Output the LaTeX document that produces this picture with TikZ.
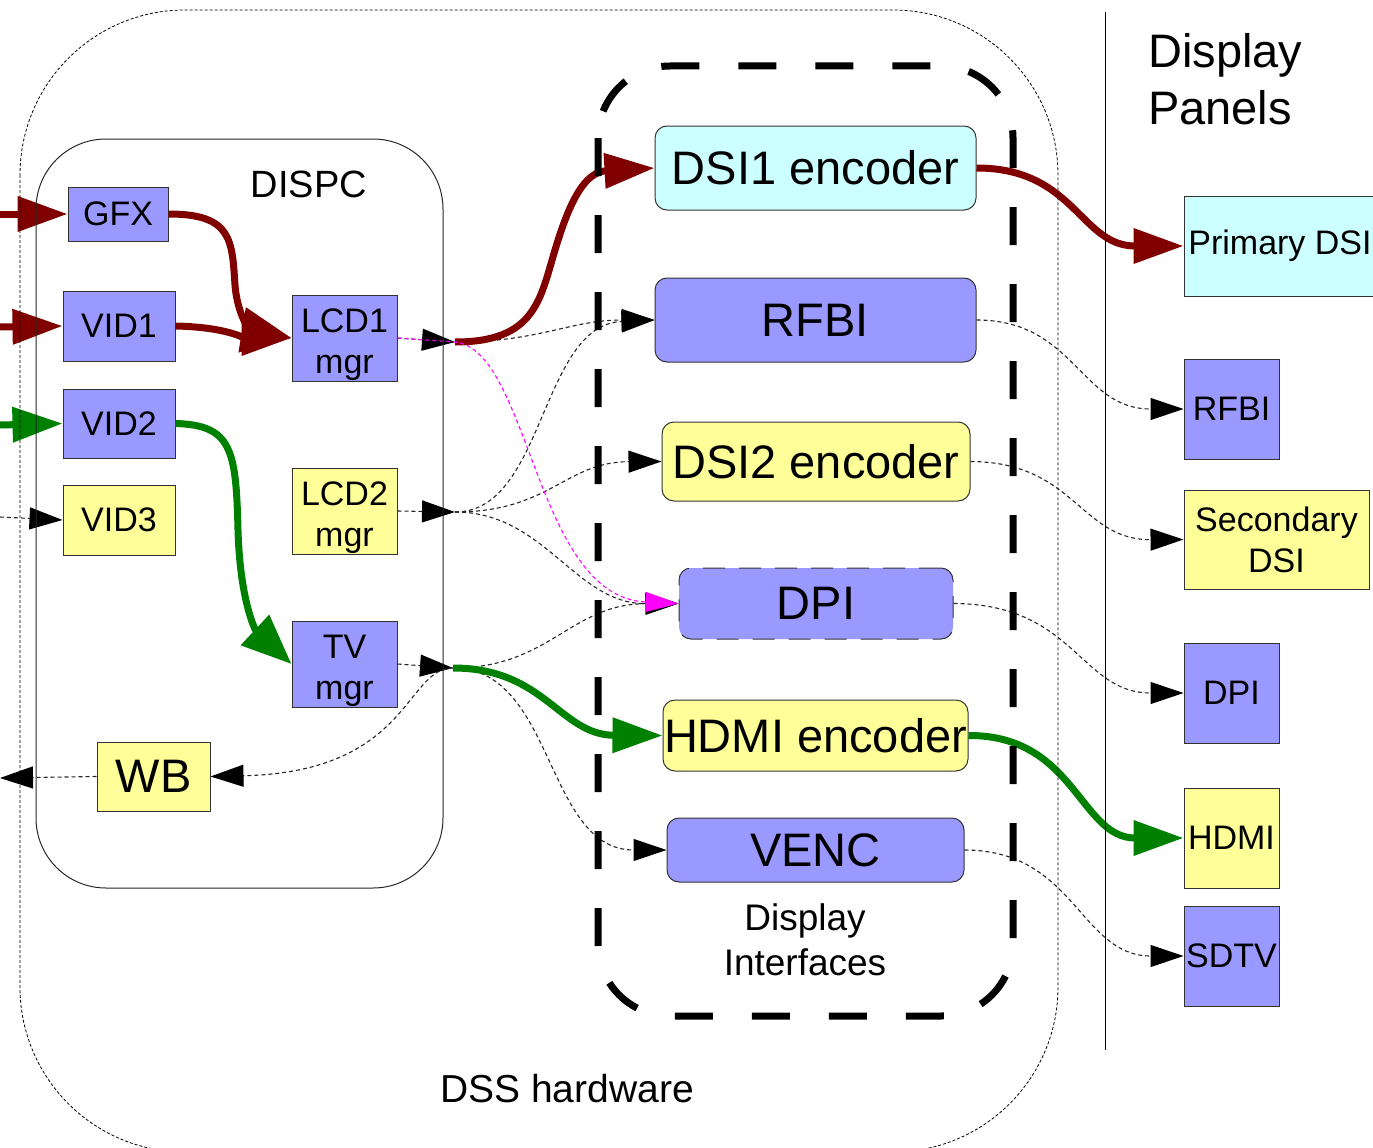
\documentclass[tikz,border=0pt]{standalone}
\usepackage{fontspec}
\setmainfont{Liberation Sans}
\usetikzlibrary{arrows.meta}
\definecolor{pblue}{HTML}{9999FF}
\definecolor{pyel}{HTML}{FFFF99}
\definecolor{pcyan}{HTML}{CCFFFF}
\definecolor{dred}{HTML}{800000}
\definecolor{dgreen}{HTML}{008000}
\definecolor{pmag}{HTML}{FF00FF}
\begin{document}
\begin{tikzpicture}[x=1pt,y=-1pt,
  box/.style={draw=black!80,line width=1pt,inner sep=0pt,align=center},
  sfont/.style={font=\fontsize{34}{41}\selectfont},
  bfont/.style={font=\fontsize{47}{56}\selectfont},
  sq/.style={box,sfont},
  mgrbox/.style={sq,text height=71pt,text depth=0pt},
  enc/.style={box,bfont,rounded corners=12pt},
  bl/.style={fill=pblue}, ye/.style={fill=pyel}, cy/.style={fill=pcyan},
  dl/.style={draw=black!85,line width=1.1pt,dash pattern=on 4pt off 3pt},
  sarr/.style={-{Triangle[length=33pt,width=22pt,color=black]}},
  barr/.style={-{Triangle[length=50pt,width=34pt]}},
  redl/.style={draw=dred,line width=7pt},
  grnl/.style={draw=dgreen,line width=7pt},
  lbl/.style={inner sep=0pt}
]
\useasboundingbox (0,0) rectangle (1373,1148);
\clip (0,0) rectangle (1373,1148);

% DISPC blocks
\node[sq,bl,minimum width=100pt,minimum height=54pt] (gfx) at (118,214) {GFX};
\node[sq,bl,minimum width=112pt,minimum height=70pt] (vid1) at (119,326) {VID1};
\node[sq,bl,minimum width=112pt,minimum height=69pt] (vid2) at (119,423.5) {VID2};
\node[sq,ye,minimum width=112pt,minimum height=70pt] (vid3) at (119,520) {VID3};
\node[mgrbox,bl,minimum width=105pt,minimum height=86pt] (lcd1) at (344.5,338) {LCD1\\mgr};
\node[mgrbox,ye,minimum width=105pt,minimum height=86pt] (lcd2) at (344.5,511) {LCD2\\mgr};
\node[mgrbox,bl,minimum width=105pt,minimum height=86pt] (tv) at (344.5,664) {TV\\mgr};
\node[box,bfont,ye,minimum width=113pt,minimum height=69pt] (wb) at (153.5,776.5) {WB};

% Display interfaces
\node[enc,cy,minimum width=321pt,minimum height=84pt] (dsi1) at (815.5,168) {DSI1 encoder};
\node[enc,bl,minimum width=321pt,minimum height=84pt] (rfbi) at (815.5,320) {RFBI};
\node[enc,ye,minimum width=308pt,minimum height=79pt] (dsi2) at (816,461.5) {DSI2 encoder};
\node[enc,bl,minimum width=274pt,minimum height=71pt,dash pattern=on 22pt off 14pt] (dpi) at (816,603.5) {DPI};
\node[enc,ye,minimum width=305pt,minimum height=71pt] (hdmienc) at (815.5,735.5) {HDMI encoder};
\node[enc,bl,minimum width=297pt,minimum height=64pt] (venc) at (815.5,850) {VENC};

% Panels
\node[sq,cy,minimum width=192pt,minimum height=100pt] (pdsi) at (1280,246) {Primary DSI};
\node[sq,bl,minimum width=95pt,minimum height=100pt] (prfbi) at (1231.5,409) {RFBI};
\node[sq,ye,minimum width=185pt,minimum height=99pt] (sdsi) at (1276.5,539.5) {Secondary\\DSI};
\node[sq,bl,minimum width=95pt,minimum height=100pt] (pdpi) at (1231.5,693) {DPI};
\node[sq,ye,minimum width=95pt,minimum height=100pt] (phdmi) at (1231.5,838) {HDMI};
\node[sq,bl,minimum width=95pt,minimum height=100pt] (psdtv) at (1231.5,956) {SDTV};

% Labels
\node[lbl,font=\fontsize{38}{46}\selectfont] (dispc) at (309,184) {DISPC};
\node[lbl,font=\fontsize{47}{57}\selectfont,align=left,anchor=west] (panels) at (1148,79) {Display\\Panels};
\node[lbl,font=\fontsize{37}{45}\selectfont,align=center] (dilbl) at (805,940) {Display\\Interfaces};
\node[lbl,font=\fontsize{39}{47}\selectfont] (dss) at (567,1089) {DSS hardware};

% coordinates
\coordinate (in0) at (0,214);
\coordinate (in1) at (0,327);
\coordinate (in2) at (0,425);
\coordinate (in3) at (0,517);
\coordinate (wbo) at (0,778);
\coordinate (l1o) at (455,342);
\coordinate (l2o) at (455,512);
\coordinate (tvo) at (453,668);

% incoming
\draw[redl,barr] (in0) -- (gfx.west);
\draw[redl,barr] (in1) -- (vid1.west);
\draw[grnl,barr] (in2) -- (vid2.west);
\draw[dl,sarr] (in3) -- (vid3.west);

% inside DISPC
\draw[redl,-{Triangle[length=50pt,width=44pt]}] (gfx.east) .. controls (232,214) and (232,240) .. (235,285) .. controls (238,322) and (255,332) .. (lcd1.west);
\draw[redl,barr] (vid1.east) .. controls (225,327) and (245,338) .. (lcd1.west);
\draw[grnl,-{Triangle[length=50pt,width=40pt]}] (vid2.east) .. controls (232,425) and (236,450) .. (238,530) .. controls (240,600) and (255,630) .. (tv.west);

% LCD1 outputs
\draw[dl,sarr] (lcd1.east) -- (l1o);
\draw[dl,sarr] (l1o) .. controls (540,342) and (570,320) .. (rfbi.west);
\draw[redl,barr] (l1o) .. controls (535,342) and (540,300) .. (555,250) .. controls (570,200) and (585,172) .. (dsi1.west);

% LCD2 outputs
\draw[dl,sarr] (lcd2.east) -- (l2o);
\draw[dl,sarr] (l2o) .. controls (545,512) and (540,325) .. (rfbi.west);
\draw[dl,sarr] (l2o) .. controls (550,512) and (565,462) .. (dsi2.west);
\draw[dl,sarr] (l2o) .. controls (545,512) and (575,604) .. (dpi.west);

% TV outputs
\draw[dl,sarr] (tv.east) -- (tvo);
\draw[dl,sarr] (tvo) .. controls (550,668) and (570,604) .. (dpi.west);
\draw[dl,sarr] (tvo) .. controls (555,668) and (545,850) .. (venc.west);
\draw[dl,sarr] (tvo) .. controls (405,668) and (410,772) .. (wb.east);
\draw[grnl,barr] (tvo) .. controls (545,668) and (560,735) .. (hdmienc.west);

% LCD1 to DPI (magenta, on top)
\draw[dl,draw=pmag,-{Triangle[length=33pt,width=20pt,color=pmag]}] (lcd1.east) -- (l1o) .. controls (530,350) and (535,597) .. (dpi.west);

% WB out
\draw[dl,sarr] (wb.west) -- (wbo);

% to panels
\draw[redl,barr] (dsi1.east) .. controls (1075,168) and (1080,246) .. (pdsi.west);
\draw[dl,sarr] (rfbi.east) .. controls (1075,320) and (1080,409) .. (prfbi.west);
\draw[dl,sarr] (dsi2.east) .. controls (1075,462) and (1080,540) .. (sdsi.west);
\draw[dl,sarr] (dpi.east) .. controls (1075,604) and (1080,693) .. (pdpi.west);
\draw[grnl,barr] (hdmienc.east) .. controls (1075,735) and (1080,838) .. (phdmi.west);
\draw[dl,sarr] (venc.east) .. controls (1075,850) and (1080,956) .. (psdtv.west);

% frames
\draw[line width=1pt,draw=black!85,rounded corners=70pt] (36,139) rectangle (443,888);
\draw[line width=0.8pt,dash pattern=on 3pt off 2pt,rounded corners=165pt] (20,10) rectangle (1058,1152);
\draw[line width=7pt,dash pattern=on 38pt off 39pt,rounded corners=72pt] (598,66) rectangle (1013,1016);
\draw[line width=1pt] (1105,12) -- (1105,1050);
\end{tikzpicture}
\end{document}
